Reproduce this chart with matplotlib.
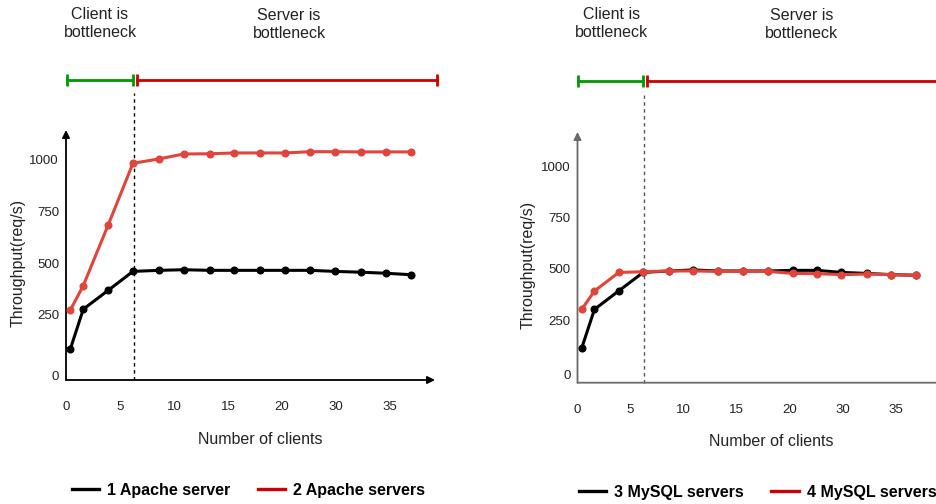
import matplotlib
matplotlib.use("Agg")
import matplotlib.pyplot as plt
from matplotlib.lines import Line2D

plt.rcParams['font.family'] = ['Liberation Sans', 'DejaVu Sans']

# x positions on the (uneven) client axis, tick labels below
clients = [0.4, 1.6, 3.9, 6.2, 8.6, 10.9, 13.3, 15.6, 18.0, 20.3, 22.6, 24.9, 27.3, 29.6, 31.9]
xtick_pos = [0, 5, 10, 15, 20, 25, 30]
xtick_labels = ['0', '5', '10', '15', '20', '30', '35']
ytick_labels = ['0', '250', '500', '750', '1000']

apache_1 = [85, 278, 369, 461, 466, 469, 466, 466, 466, 466, 466, 461, 457, 452, 445]
apache_2 = [274, 392, 685, 984, 1005, 1029, 1030, 1034, 1034, 1034, 1040, 1040, 1039, 1039, 1039]
mysql_3 = [113, 302, 393, 483, 490, 495, 490, 490, 490, 493, 493, 483, 478, 472, 469]
mysql_4 = [302, 392, 483, 486, 490, 490, 488, 488, 488, 478, 477, 472, 475, 472, 469]

boundary = 6.3  # client / server bottleneck switch

W, H = 937, 504
RED_CURVE = '#e0453c'
RED_BAR = '#cc0000'
GREEN_BAR = '#009900'

fig = plt.figure(figsize=(W / 100, H / 100), dpi=100)


def px_axes(x0, x1, ytop, ybot):
    return fig.add_axes([x0 / W, 1 - ybot / H, (x1 - x0) / W, (ybot - ytop) / H])


def draw_panel(ax, xmax, ylim, yticks, series, spine_col, dash_col, top_frac, red_end):
    ax.set_xlim(0, xmax)
    ax.set_ylim(*ylim)
    for s in ax.spines.values():
        s.set_visible(False)
    ax.patch.set_alpha(0)

    # arrow axes
    ax.annotate('', xy=(1, 0), xytext=(0, 0), xycoords='axes fraction',
                arrowprops=dict(arrowstyle='-|>', color=spine_col, lw=1.3,
                                mutation_scale=11, shrinkA=0, shrinkB=0))
    ax.annotate('', xy=(0, 1), xytext=(0, 0), xycoords='axes fraction',
                arrowprops=dict(arrowstyle='-|>', color=spine_col, lw=1.3,
                                mutation_scale=11, shrinkA=0, shrinkB=0))

    ax.set_xticks(xtick_pos)
    ax.set_xticklabels(xtick_labels)
    ax.set_yticks(yticks)
    ax.set_yticklabels(ytick_labels)
    ax.tick_params(axis='x', length=0, pad=15, labelsize=9.5, colors='#222222')
    ax.tick_params(axis='y', length=0, pad=5, labelsize=9.5, colors='#222222')

    for ys, col in series:
        ax.plot(clients, ys, color=col, lw=2.2, marker='o', ms=4.8,
                solid_joinstyle='round', zorder=3)

    tr = ax.get_xaxis_transform()
    ax.plot([boundary, boundary], [0, 1.148], ls=(0, (2.5, 2.5)), lw=1.0,
            color=dash_col, transform=tr, clip_on=False)
    ax.plot([0.05, boundary - 0.1], [top_frac, top_frac], color=GREEN_BAR, lw=2,
            marker='|', ms=9, mew=2, transform=tr, clip_on=False)
    ax.plot([boundary + 0.25, red_end], [top_frac, top_frac], color=RED_BAR, lw=2,
            marker='|', ms=9, mew=2, transform=tr, clip_on=False)


# left panel: Apache
ax1 = px_axes(66, 435, 130, 380)
draw_panel(ax1, 369 / 10.8, (-64.5, 1145), [-45, 250, 500, 750, 1000],
           [(apache_1, 'black'), (apache_2, RED_CURVE)],
           'black', 'black', 1.2, 34.35)

# right panel: MySQL
ax2 = px_axes(577.5, 948.5, 132, 382.7)
draw_panel(ax2, 371 / 10.6, (-56.7, 1170), [-19, 250, 500, 750, 1000],
           [(mysql_3, 'black'), (mysql_4, RED_CURVE)],
           '#6a6a6a', '#555555', 1.203, 40)

txt = dict(ha='center', va='center', fontsize=11.5, color='#222222', linespacing=1.2)
fig.text(100 / W, 1 - 23.5 / H, 'Client is\nbottleneck', **txt)
fig.text(289 / W, 1 - 24.5 / H, 'Server is\nbottleneck', **txt)
fig.text(611.7 / W, 1 - 23.5 / H, 'Client is\nbottleneck', **txt)
fig.text(801.7 / W, 1 - 24.5 / H, 'Server is\nbottleneck', **txt)

lab = dict(ha='center', va='center', fontsize=11.5, color='#222222')
fig.text(18 / W, 1 - 263 / H, 'Throughput(req/s)', rotation=90, **lab)
fig.text(528 / W, 1 - 265 / H, 'Throughput(req/s)', rotation=90, **lab)
fig.text(260 / W, 1 - 440 / H, 'Number of clients', **lab)
fig.text(771 / W, 1 - 441 / H, 'Number of clients', **lab)

leg_kw = dict(loc='center', ncol=2, frameon=False, handlelength=1.7,
              handletextpad=0.5, columnspacing=1.75,
              prop={'weight': 'bold', 'size': 11.5})
h1 = [Line2D([], [], color='black', lw=2.4), Line2D([], [], color=RED_BAR, lw=2.4)]
fig.legend(h1, ['1 Apache server', '2 Apache servers'],
           bbox_to_anchor=(248.5 / W, 1 - 490 / H), **leg_kw)
h2 = [Line2D([], [], color='black', lw=2.4), Line2D([], [], color=RED_BAR, lw=2.4)]
fig.legend(h2, ['3 MySQL servers', '4 MySQL servers'],
           bbox_to_anchor=(757.5 / W, 1 - 492 / H), **leg_kw)

fig.savefig('out.png', dpi=100)
